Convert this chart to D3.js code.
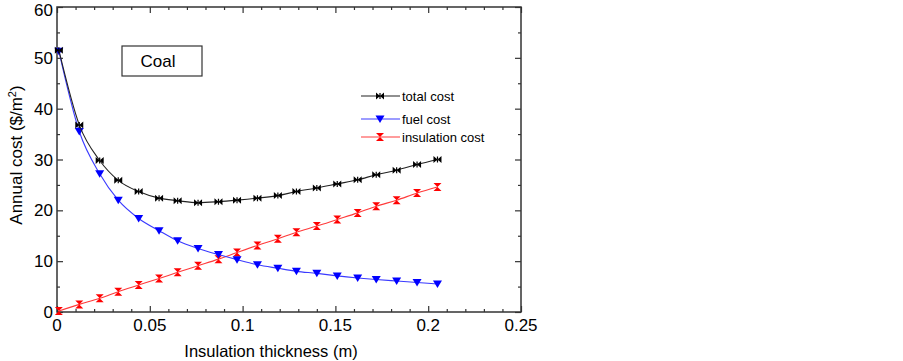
<!DOCTYPE html>
<html><head><meta charset="utf-8">
<script src="https://cdn.jsdelivr.net/npm/d3@7"></script>
<style>
html,body{margin:0;padding:0;background:#fff;}
svg{display:block;font-family:"Liberation Sans",Arial,sans-serif;}
</style></head>
<body>
<svg id="chart" width="903" height="361"></svg>
<script>
const thickness = [0.001,0.012,0.023,0.033,0.044,0.055,0.065,0.076,0.087,0.097,0.108,0.119,0.129,0.140,0.151,0.162,0.172,0.183,0.194,0.205];
const totalCost = [51.5,36.8,29.8,25.9,23.7,22.4,21.9,21.5,21.7,22.0,22.4,22.9,23.7,24.4,25.2,26.0,27.0,27.9,29.0,30.0];
const fuelCost = [51.3,35.5,27.2,22.0,18.4,16.0,14.0,12.5,11.3,10.3,9.3,8.6,8.0,7.6,7.1,6.7,6.4,6.1,5.8,5.5];
const insulationCost = [0.2,1.5,2.7,4.0,5.3,6.6,7.8,9.1,10.4,11.7,13.1,14.4,15.7,16.9,18.2,19.5,20.8,22.0,23.4,24.6];
const xTicks = [0,0.05,0.1,0.15,0.2,0.25];
const xTickLabels = ["0","0.05","0.1","0.15","0.2","0.25"];
const yTicks = [0,10,20,30,40,50,60];
const seriesNames = ["total cost","fuel cost","insulation cost"];
const annotation = "Coal";

const svg = d3.select("#chart");
const L = 57, R = 521, T = 7, B = 312;
const x = d3.scaleLinear().domain([0,0.25]).range([L,R]);
const y = d3.scaleLinear().domain([0,60]).range([B,T]);

const axisColor = "#333";
const g = svg.append("g");

function styleAxis(sel){
  sel.select(".domain").remove();
  sel.selectAll("line").attr("stroke",axisColor).attr("stroke-width",1.2);
}
const xMinor = d3.range(0,0.2501,0.01).filter(v=>Math.abs(v/0.05-Math.round(v/0.05))>1e-6);
const yMinor = [5,15,25,35,45,55];

g.append("g").attr("transform",`translate(0,${B})`)
  .call(d3.axisTop(x).tickValues(xTicks).tickSize(6).tickFormat(""))
  .call(styleAxis);
g.append("g").attr("transform",`translate(0,${B})`)
  .call(d3.axisTop(x).tickValues(xMinor).tickSize(3).tickFormat(""))
  .call(styleAxis);
g.append("g").attr("transform",`translate(0,${T})`)
  .call(d3.axisBottom(x).tickValues(xTicks).tickSize(6).tickFormat(""))
  .call(styleAxis);
g.append("g").attr("transform",`translate(0,${T})`)
  .call(d3.axisBottom(x).tickValues(xMinor).tickSize(3).tickFormat(""))
  .call(styleAxis);
g.append("g").attr("transform",`translate(${L},0)`)
  .call(d3.axisRight(y).tickValues(yTicks).tickSize(6).tickFormat(""))
  .call(styleAxis);
g.append("g").attr("transform",`translate(${L},0)`)
  .call(d3.axisRight(y).tickValues(yMinor).tickSize(3).tickFormat(""))
  .call(styleAxis);
g.append("g").attr("transform",`translate(${R},0)`)
  .call(d3.axisLeft(y).tickValues(yTicks).tickSize(6).tickFormat(""))
  .call(styleAxis);
g.append("g").attr("transform",`translate(${R},0)`)
  .call(d3.axisLeft(y).tickValues(yMinor).tickSize(3).tickFormat(""))
  .call(styleAxis);

g.append("rect").attr("x",L).attr("y",T).attr("width",R-L).attr("height",B-T)
  .attr("fill","none").attr("stroke",axisColor).attr("stroke-width",1.5);

g.selectAll("text.xl").data(xTicks).enter().append("text")
  .attr("x",d=>x(d)).attr("y",B+19).attr("text-anchor","middle")
  .attr("font-size",17).attr("fill","#000")
  .text((d,i)=>xTickLabels[i]);
g.selectAll("text.yl").data(yTicks).enter().append("text")
  .attr("x",L-4).attr("y",d=>Math.max(y(d)+6,16)).attr("text-anchor","end")
  .attr("font-size",17).attr("fill","#000")
  .text(d=>d);

g.append("text").attr("x",271).attr("y",357).attr("text-anchor","middle")
  .attr("font-size",16.5).attr("fill","#000").text("Insulation thickness (m)");
const yt = g.append("text").attr("transform","translate(22,155) rotate(-90)")
  .attr("text-anchor","middle").attr("font-size",17).attr("fill","#000");
yt.append("tspan").text("Annual cost ($/m");
yt.append("tspan").attr("dy",-6).attr("font-size",11).text("2");
yt.append("tspan").attr("dy",6).text(")");

g.append("rect").attr("x",122).attr("y",46).attr("width",80).attr("height",30)
  .attr("fill","#fff").attr("stroke","#333").attr("stroke-width",1.2);
g.append("text").attr("x",158).attr("y",67).attr("text-anchor","middle")
  .attr("font-size",17).attr("fill","#000").text(annotation);

const bowtie = "M-4,-3.5L0,0L-4,3.5Z M4,-3.5L0,0L4,3.5Z M-0.6,-3L0.6,-3L0.6,3L-0.6,3Z";
const hourglass = "M-4,-4L4,-4L0,0Z M-4,4L4,4L0,0Z";
const triDown = "M-4.5,-3.5L4.5,-3.5L0,4Z";

const series = [
  {name:seriesNames[0], vals:totalCost, line:"#222", fill:"#000", shape:bowtie},
  {name:seriesNames[1], vals:fuelCost, line:"#3a3aff", fill:"#0000ff", shape:triDown},
  {name:seriesNames[2], vals:insulationCost, line:"#ff3a3a", fill:"#ff0000", shape:hourglass}
];

const lineGen = d3.line().x(d=>x(d[0])).y(d=>y(d[1])).curve(d3.curveMonotoneX);
const plot = g.append("g");
[2,1,0].forEach(i=>{
  const s = series[i];
  const pts = thickness.map((t,j)=>[t,s.vals[j]]);
  plot.append("path").attr("d",lineGen(pts)).attr("fill","none")
    .attr("stroke",s.line).attr("stroke-width",1.1);
  plot.selectAll(null).data(pts).enter().append("path")
    .attr("transform",d=>`translate(${x(d[0])},${y(d[1])})`)
    .attr("d",s.shape).attr("fill",s.fill);
});

const legY = [96,119,137];
series.forEach((s,i)=>{
  const lg = g.append("g").attr("transform",`translate(0,${legY[i]})`);
  lg.append("line").attr("x1",361).attr("x2",400).attr("y1",0).attr("y2",0)
    .attr("stroke",s.line).attr("stroke-width",1.1);
  lg.append("path").attr("transform","translate(380,0)").attr("d",s.shape).attr("fill",s.fill);
  lg.append("text").attr("x",402).attr("y",5).attr("font-size",13).attr("fill","#000").text(s.name);
});
</script>
</body></html>
